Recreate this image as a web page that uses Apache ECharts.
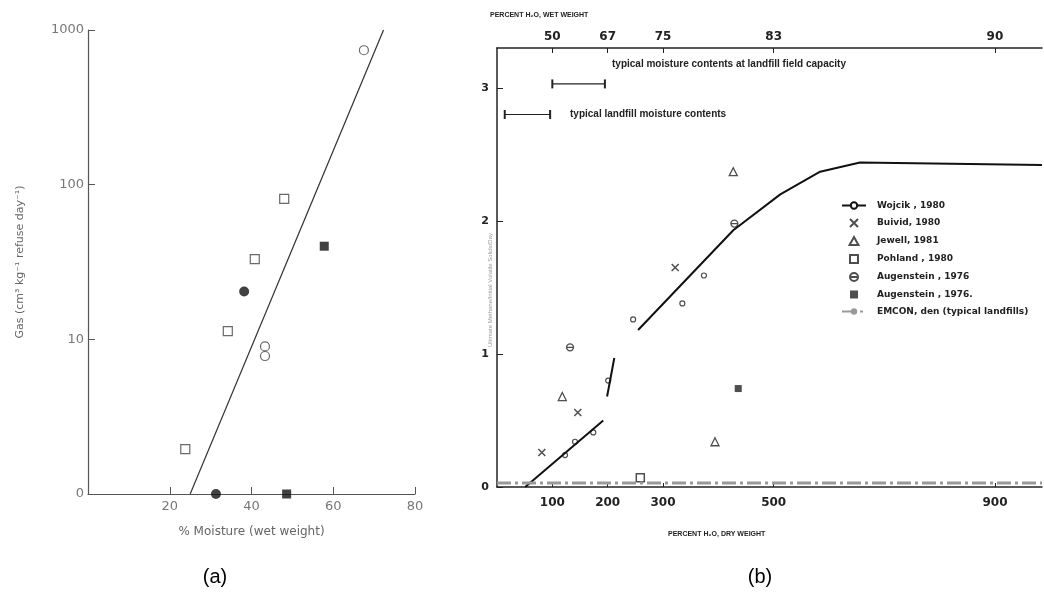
<!DOCTYPE html>
<html>
<head>
<meta charset="utf-8">
<script src="https://cdn.jsdelivr.net/npm/echarts@6.0.0/dist/echarts.min.js"></script>
<style>
html, body { margin: 0; padding: 0; background: #fff; }
#main { width: 1044px; height: 594px; }
</style>
</head>
<body>
<div id="main"></div>
<script>
// (a) gas production vs moisture (wet weight)
const openCircles = [[67.5, 740], [43.3, 9.0], [43.3, 7.8]]
const openSquares = [[48, 81], [40.8, 33], [34.2, 11.3], [23.8, 1.95]]
const filledCircles = [[38.2, 20.4], [31.3, 1]]
const filledSquares = [[57.8, 40], [48.6, 1]]
const fitLine = [[25, 1], [72.3, 1000]]

// (b) methane vs percent H2O dry weight
const dryTicks = [100, 200, 300, 500, 900]
const wetTicks = [50, 67, 75, 83, 90]
const wojcikCurve = [[51, 0], [192, 0.5], [195, '-'], [199, 0.68], [212, 0.97], [230, '-'],
    [255, 1.18], [427, 1.93], [512, 2.2], [584, 2.37], [656, 2.44], [985, 2.42]]
const wojcik = [[123, 0.24], [141, 0.34], [174, 0.41], [201, 0.8], [246, 1.26], [335, 1.38], [374, 1.59]]
const buivid = [[81, 0.26], [146, 0.56], [322, 1.65]]
const jewell = [[118, 0.68], [394, 0.34], [427, 2.37]]
const pohland = [[259, 0.07]]
const augenstein1 = [[132, 1.05], [429, 1.98]]
const augenstein2 = [[436, 0.74]]
const emcon = [[0, 0.03], [985, 0.03]]
const fieldCapacityRange = [[100, 3.03], [195, 3.03]]
const landfillRange = [[14, 2.8], [96, 2.8]]

const dark = '#222'
const grayA = '#666'

// path symbols keep their shape in the legend
const triangleIcon = 'path://M5,0L10,9L0,9Z'
const squareIcon = 'path://M0,0L10,0L10,10L0,10Z'
const crossIcon = 'path://M0,0L10,10M10,0L0,10'
const barCircleIcon = 'path://M5,0A5,5 0 1,1 5,10A5,5 0 1,1 5,0ZM0,5L10,5'
const barIcon = 'path://M0,0L1,0L1,10L0,10Z'

function openStyle() {
    return { color: '#fff', borderColor: '#444', borderWidth: 1.2 }
}

let chart = echarts.init(document.getElementById('main'))

chart.setOption({
    backgroundColor: '#fff',
    animation: false,
    textStyle: { fontFamily: 'DejaVu Sans' },
    grid: [
        { left: 88, top: 30, width: 327, height: 464 },
        { left: 497, top: 48, width: 545, height: 439 }
    ],
    xAxis: [
        {
            gridIndex: 0, type: 'value', min: 0, max: 80, interval: 20,
            axisLine: { lineStyle: { color: '#555', width: 1.2 } },
            axisTick: { inside: true, length: 7, lineStyle: { color: '#555' } },
            axisLabel: { color: '#777', fontSize: 13, margin: 6, showMinLabel: false },
            splitLine: { show: false },
            name: '% Moisture (wet weight)', nameLocation: 'middle', nameGap: 32,
            nameTextStyle: { color: grayA, fontSize: 12 }
        },
        {
            gridIndex: 1, type: 'value', min: 0, max: 985, position: 'bottom',
            axisLine: { lineStyle: { color: dark, width: 1.5 } },
            axisTick: { inside: true, length: 4, customValues: dryTicks, lineStyle: { color: dark } },
            axisLabel: { customValues: dryTicks, color: dark, fontSize: 12, fontWeight: 'bold', margin: 10 },
            splitLine: { show: false }
        },
        {
            gridIndex: 1, type: 'value', min: 0, max: 985, position: 'top',
            axisLine: { lineStyle: { color: dark, width: 1.5 } },
            axisTick: { inside: true, length: 5, customValues: dryTicks, lineStyle: { color: dark } },
            axisLabel: {
                customValues: dryTicks, color: dark, fontSize: 12, fontWeight: 'bold', margin: 5,
                formatter: function (v) { return String(wetTicks[dryTicks.indexOf(v)]) }
            },
            splitLine: { show: false }
        }
    ],
    yAxis: [
        {
            gridIndex: 0, type: 'log', logBase: 10, min: 1, max: 1000,
            axisLine: { show: true, lineStyle: { color: '#555', width: 1.2 } },
            axisTick: { show: true, inside: true, length: 7, lineStyle: { color: '#555' } },
            axisLabel: {
                color: '#777', fontSize: 13, margin: 4,
                formatter: function (v) { return v === 1 ? '0' : String(v) }
            },
            splitLine: { show: false },
            minorTick: { show: false },
            name: 'Gas (cm³ kg⁻¹ refuse day⁻¹)', nameLocation: 'middle', nameGap: 62, nameRotate: 90,
            nameTextStyle: { color: grayA, fontSize: 11 }
        },
        {
            gridIndex: 1, type: 'value', min: 0, max: 3.3, interval: 1,
            axisLine: { show: true, lineStyle: { color: dark, width: 1.5 } },
            axisTick: { show: true, inside: true, length: 6, lineStyle: { color: dark } },
            axisLabel: { color: dark, fontSize: 11, fontWeight: 'bold', margin: 8, showMaxLabel: false },
            splitLine: { show: false }
        }
    ],
    legend: {
        orient: 'vertical', left: 836, top: 196, itemGap: 8, itemWidth: 24, itemHeight: 8,
        textStyle: { fontSize: 9, fontWeight: 'bold', color: dark, padding: [0, 0, 0, 6] },
        data: ['Wojcik , 1980', 'Buivid, 1980', 'Jewell, 1981', 'Pohland , 1980',
            'Augenstein , 1976', 'Augenstein , 1976.', 'EMCON, den (typical landfills)']
    },
    graphic: [
        { type: 'text', left: 490, top: 12, style: { text: 'PERCENT H₂O, WET WEIGHT', fontSize: 7, fontWeight: 'bold', fill: dark } },
        { type: 'text', left: 668, top: 531, style: { text: 'PERCENT H₂O, DRY WEIGHT', fontSize: 7, fontWeight: 'bold', fill: dark } },
        { type: 'text', left: 612, top: 59, style: { text: 'typical moisture contents at landfill field capacity', fontSize: 10, fontWeight: 'bold', fontFamily: 'Liberation Sans', fill: dark } },
        { type: 'text', left: 570, top: 109, style: { text: 'typical landfill moisture contents', fontSize: 10, fontWeight: 'bold', fontFamily: 'Liberation Sans', fill: dark } },
        { type: 'text', x: 490, y: 290, rotation: Math.PI / 2, style: { text: 'Ultimate Methane/Initial Volatile Solids/Day', fontSize: 6, fill: '#999', align: 'center', verticalAlign: 'middle' } },
        { type: 'text', x: 215, y: 577, style: { text: '(a)', fontSize: 20, fontFamily: 'Liberation Sans', fill: '#000', align: 'center', verticalAlign: 'middle' } },
        { type: 'text', x: 760, y: 577, style: { text: '(b)', fontSize: 20, fontFamily: 'Liberation Sans', fill: '#000', align: 'center', verticalAlign: 'middle' } }
    ],
    series: [
        // panel (a)
        { type: 'line', xAxisIndex: 0, yAxisIndex: 0, data: fitLine, symbol: 'none', lineStyle: { color: '#333', width: 1.2 } },
        { type: 'scatter', xAxisIndex: 0, yAxisIndex: 0, data: openCircles, symbol: 'circle', symbolSize: 9, itemStyle: openStyle() },
        { type: 'scatter', xAxisIndex: 0, yAxisIndex: 0, data: openSquares, symbol: 'rect', symbolSize: 9, itemStyle: openStyle() },
        { type: 'scatter', xAxisIndex: 0, yAxisIndex: 0, data: filledCircles, symbol: 'circle', symbolSize: 10, clip: false, itemStyle: { color: '#111' } },
        { type: 'scatter', xAxisIndex: 0, yAxisIndex: 0, data: filledSquares, symbol: 'rect', symbolSize: 9, clip: false, itemStyle: { color: '#111' } },

        // panel (b)
        {
            name: 'Wojcik , 1980', type: 'line', xAxisIndex: 1, yAxisIndex: 1, data: wojcikCurve,
            symbol: 'circle', symbolSize: 5, showSymbol: false, connectNulls: false,
            itemStyle: { color: '#fff', borderColor: '#111', borderWidth: 1.2 },
            lineStyle: { color: '#111', width: 2 }
        },
        {
            name: 'Wojcik , 1980', type: 'scatter', xAxisIndex: 1, yAxisIndex: 1, data: wojcik,
            symbol: 'circle', symbolSize: 5, itemStyle: { color: '#fff', borderColor: '#222', borderWidth: 1.2 }
        },
        {
            name: 'Buivid, 1980', type: 'scatter', xAxisIndex: 1, yAxisIndex: 1, data: buivid,
            symbol: crossIcon, symbolSize: 7,
            itemStyle: { color: 'transparent', borderColor: '#222', borderWidth: 1.5 }
        },
        {
            name: 'Jewell, 1981', type: 'scatter', xAxisIndex: 1, yAxisIndex: 1, data: jewell,
            symbol: triangleIcon, symbolSize: 8,
            itemStyle: { color: '#fff', borderColor: '#222', borderWidth: 1.3 }
        },
        {
            name: 'Pohland , 1980', type: 'scatter', xAxisIndex: 1, yAxisIndex: 1, data: pohland,
            symbol: squareIcon, symbolSize: 8,
            itemStyle: { color: '#fff', borderColor: '#222', borderWidth: 1.5 }
        },
        {
            name: 'Augenstein , 1976', type: 'scatter', xAxisIndex: 1, yAxisIndex: 1, data: augenstein1,
            symbol: barCircleIcon, symbolSize: 7,
            itemStyle: { color: '#fff', borderColor: '#222', borderWidth: 1.3 }
        },
        {
            name: 'Augenstein , 1976.', type: 'scatter', xAxisIndex: 1, yAxisIndex: 1, data: augenstein2,
            symbol: squareIcon, symbolSize: 7, itemStyle: { color: '#222' }
        },
        {
            name: 'EMCON, den (typical landfills)', type: 'line', xAxisIndex: 1, yAxisIndex: 1, data: emcon,
            symbol: 'none', itemStyle: { color: '#999' },
            lineStyle: { color: '#999', width: 3, type: [14, 4, 3, 4] }
        },
        {
            type: 'line', xAxisIndex: 1, yAxisIndex: 1, data: fieldCapacityRange,
            symbol: barIcon, symbolSize: [2, 9], itemStyle: { color: dark },
            lineStyle: { color: dark, width: 1.2 }
        },
        {
            type: 'line', xAxisIndex: 1, yAxisIndex: 1, data: landfillRange,
            symbol: barIcon, symbolSize: [2, 9], itemStyle: { color: dark },
            lineStyle: { color: dark, width: 1.2 }
        }
    ]
})
</script>
</body>
</html>
